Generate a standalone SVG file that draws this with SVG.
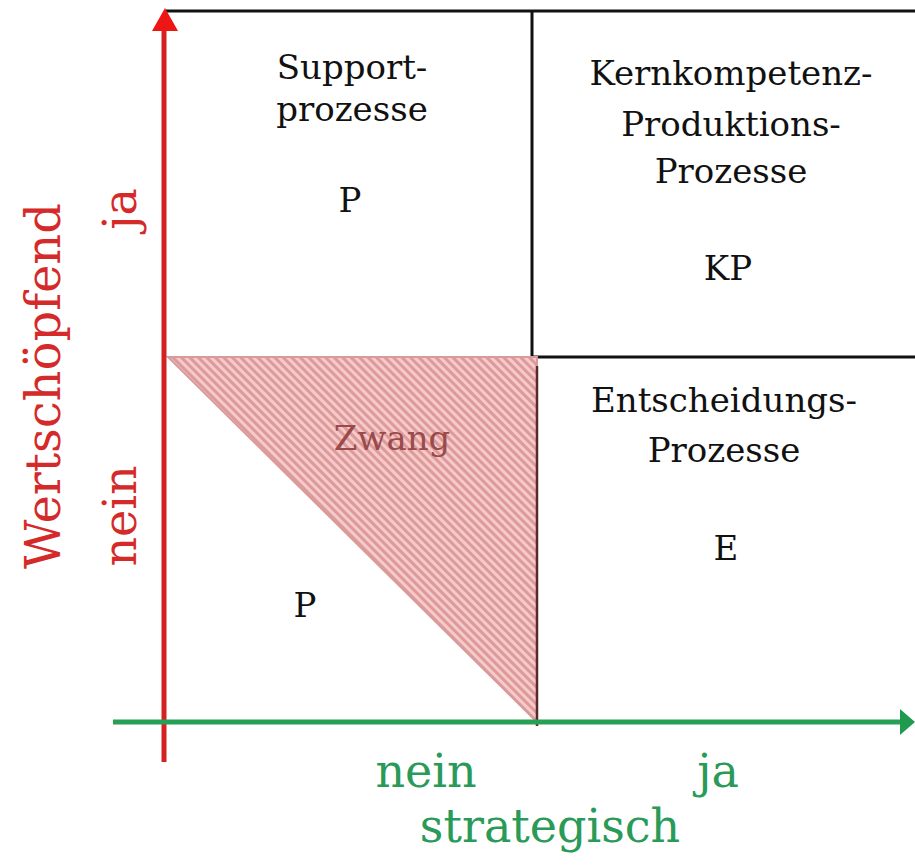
<svg xmlns="http://www.w3.org/2000/svg" width="915" height="866" viewBox="0 0 915 866">
<defs>
<pattern id="hatch" patternUnits="userSpaceOnUse" width="6" height="6" patternTransform="rotate(-45)">
<rect width="6" height="6" fill="#f6caca"/>
<rect width="3" height="6" fill="#dc9a9a"/>
</pattern>
</defs>
<style>
.t{font-family:"DejaVu Serif",serif;font-size:34px;fill:#111;text-anchor:middle}
.red{font-family:"DejaVu Serif",serif;fill:#d42a2a;text-anchor:middle}
.grn{font-family:"DejaVu Serif",serif;fill:#2a9a58;text-anchor:middle}
.bl{stroke:#111;stroke-width:3;fill:none}
</style>
<rect width="915" height="866" fill="#fff"/>
<g id="grid">
<path class="bl" d="M166 11H915M532 11V358M532 357H915"/>
</g>
<g id="zwang">
<polygon points="168,357 537,357 537,722" fill="url(#hatch)" stroke="#d89a9a" stroke-width="2"/>
<line x1="537" y1="366" x2="537" y2="726" stroke="#5a2a2a" stroke-width="2.5"/>
<text class="t" x="392" y="450" style="fill:#9a4a4a">Zwang</text>
</g>
<g id="support">
<text class="t" x="352" y="79">Support-</text>
<text class="t" x="352" y="121">prozesse</text>
<text class="t" x="350" y="212">P</text>
</g>
<g id="kern">
<text class="t" x="731" y="85">Kernkompetenz-</text>
<text class="t" x="731" y="136">Produktions-</text>
<text class="t" x="731" y="183">Prozesse</text>
<text class="t" x="728" y="280">KP</text>
</g>
<g id="entscheidung">
<text class="t" x="724" y="412">Entscheidungs-</text>
<text class="t" x="724" y="462">Prozesse</text>
<text class="t" x="726" y="560">E</text>
</g>
<g id="p2">
<text class="t" x="305" y="617">P</text>
</g>
<g id="connectors">
<line x1="164" y1="28" x2="164" y2="762" stroke="#d42222" stroke-width="5"/>
<polygon points="165,8 152,31 178,31" fill="#ee1515"/>
<line x1="113" y1="722" x2="902" y2="722" stroke="#26a055" stroke-width="5"/>
<polygon points="915,722 900,709 900,735" fill="#1f9a4e"/>
</g>
<g id="labels">
<text class="red" style="font-size:48px" transform="translate(60,386) rotate(-90)">Wertschöpfend</text>
<text class="red" style="font-size:46px" transform="translate(136,209) rotate(-90)">ja</text>
<text class="red" style="font-size:46px" transform="translate(136,516) rotate(-90)">nein</text>
<text class="grn" style="font-size:46px" x="426" y="787">nein</text>
<text class="grn" style="font-size:46px" x="718" y="787">ja</text>
<text class="grn" style="font-size:46px" x="550" y="842">strategisch</text>
</g>
</svg>
